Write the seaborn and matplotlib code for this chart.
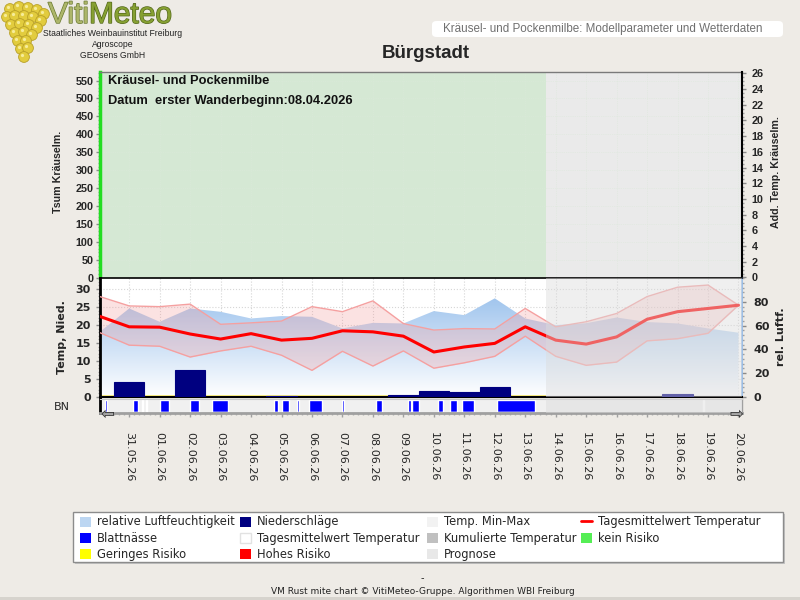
import numpy as np
import matplotlib
matplotlib.use("Agg")
import matplotlib.pyplot as plt
import seaborn as sns
import matplotlib.ticker as mticker
import matplotlib.patheffects as pe
from matplotlib.patches import Patch, Rectangle, FancyBboxPatch, Circle
from matplotlib.lines import Line2D
from matplotlib.colors import LinearSegmentedColormap

# ---------------- data ----------------
dates = ["30.05.26", "31.05.26", "01.06.26", "02.06.26", "03.06.26", "04.06.26",
         "05.06.26", "06.06.26", "07.06.26", "08.06.26", "09.06.26", "10.06.26",
         "11.06.26", "12.06.26", "13.06.26", "14.06.26", "15.06.26", "16.06.26",
         "17.06.26", "18.06.26", "19.06.26", "20.06.26"]
temp_mean = [22.5, 19.5, 19.4, 17.5, 16.1, 17.6, 15.8, 16.3, 18.4, 18.1, 16.9,
             12.5, 13.9, 14.9, 19.5, 15.8, 14.7, 16.7, 21.6, 23.7, 24.6, 25.5]
temp_max = [28.0, 25.3, 25.1, 25.8, 20.2, 20.6, 21.1, 25.1, 23.7, 26.7, 20.4,
            18.6, 19.0, 18.9, 24.6, 19.5, 20.9, 23.2, 27.9, 30.5, 31.1, 25.5]
temp_min = [18.0, 14.4, 14.1, 11.1, 12.8, 14.1, 11.6, 7.4, 12.7, 8.6, 12.8,
            8.0, 9.5, 11.3, 16.9, 11.3, 8.8, 9.7, 15.6, 16.2, 17.7, 25.5]
humidity = [54.0, 74.4, 63.2, 74.4, 71.6, 66.0, 68.0, 67.4, 57.6, 62.3, 61.8,
            72.2, 68.8, 82.9, 66.0, 60.4, 62.0, 66.8, 63.0, 61.8, 57.6, 54.0]
precip = [0.1, 4.1, 0.0, 7.4, 0.1, 0.0, 0.3, 0.1, 0.1, 0.1, 0.5,
          1.6, 1.3, 2.7, 0.1, 0.0, 0.0, 0.0, 0.0, 0.8, 0.0, 0.0]
# leaf wetness (Blattnaesse) periods, hours after 30.05.26 00:00
bn_start_h = [5, 27, 34, 37, 48, 72, 89.5, 138, 144.5, 156, 166, 192, 218.5,
              244, 247, 267, 277, 286, 313.5, 476]
bn_end_h = [6.5, 31, 35, 38, 55, 79, 102, 141, 150, 157.5, 175.5, 193, 223,
            246, 252, 271, 282.5, 296, 343.5, 477]
forecast_start_h = 352
tsum_ticks = list(range(0, 551, 50))
addtemp_ticks = list(range(0, 27, 2))
temp_ticks = list(range(0, 31, 5))
hum_ticks = list(range(0, 81, 20))

# ---------------- style ----------------
sns.set_theme(style="white")
plt.rcParams["font.family"] = ["DejaVu Sans"]
BG = "#EEEBE6"
fig = plt.figure(figsize=(8, 6), dpi=100, facecolor=BG)

def rect(top, bottom):
    return [100.5 / 800, (600 - bottom) / 600, 641.5 / 800, (bottom - top) / 600]

x = np.arange(len(dates))
XL = (0.058, 21.115)
fc_x = forecast_start_h / 24
OVER = dict(color="#DCDCDC", alpha=0.45, lw=0)
TICKC = "#8a8a8a"

# ---------------- top panel ----------------
ax_top = fig.add_axes(rect(72, 277.5))
ax_top.set_facecolor("white")
ax_top.set_xlim(*XL)
ax_top.set_ylim(0, 574)
ax_top.axvspan(XL[0], fc_x, color="#D5E8D4", lw=0, zorder=0)
ax_top.axvspan(fc_x, XL[1], color="#DCDCDC", alpha=0.6, lw=0, zorder=0)
ax_top.set_xticks(x[1:])
ax_top.tick_params(axis="x", length=0, labelbottom=False)
ax_top.grid(True, ls=":", lw=0.5, color="#DCE8DB")
ax_top.set_yticks(tsum_ticks, [str(t) for t in tsum_ticks], fontsize=7.8,
                  fontweight="bold", fontfamily="Liberation Sans")
ax_top.yaxis.set_minor_locator(mticker.MultipleLocator(10))
ax_top.tick_params(axis="y", which="major", length=3, width=1, color=TICKC, pad=2)
ax_top.tick_params(axis="y", which="minor", length=1.5, width=1, color="#a0a0a0", left=True)
for s in ["bottom", "right"]:
    ax_top.spines[s].set_visible(False)
ax_top.spines["left"].set_color("#22DD22")
ax_top.spines["left"].set_linewidth(2.5)
ax_top.spines["top"].set_color("#7a7a7a")
ax_top.spines["top"].set_linewidth(1.0)

ax_top_r = ax_top.twinx()
ax_top_r.set_ylim(0, 26.17)
ax_top_r.set_yticks(addtemp_ticks, [str(t) for t in addtemp_ticks], fontsize=7.8,
                    fontweight="bold", fontfamily="Liberation Sans")
ax_top_r.yaxis.set_minor_locator(mticker.MultipleLocator(0.5))
ax_top_r.tick_params(axis="y", which="major", length=3, width=1, color=TICKC, pad=4)
ax_top_r.tick_params(axis="y", which="minor", length=1.5, width=1, color="#a0a0a0", right=True)
for s in ["left", "top", "bottom"]:
    ax_top_r.spines[s].set_visible(False)
ax_top_r.spines["right"].set_color("black")
ax_top_r.spines["right"].set_linewidth(1.5)

ax_top.text(0.012, 0.955, "Kräusel- und Pockenmilbe", transform=ax_top.transAxes,
            ha="left", va="center", fontsize=9.3, fontweight="bold",
            fontfamily="Liberation Sans", color="#111111")
ax_top.text(0.012, 0.858, "Datum  erster Wanderbeginn:08.04.2026", transform=ax_top.transAxes,
            ha="left", va="center", fontsize=9.3, fontweight="bold",
            fontfamily="Liberation Sans", color="#111111")

# ---------------- middle panel ----------------
ax_grid = fig.add_axes(rect(278, 397))
ax_grid.set_facecolor("white")
ax_grid.set_xlim(*XL)
ax_grid.set_ylim(0, 33.06)
ax_grid.set_xticks(x[1:])
ax_grid.set_yticks(temp_ticks)
ax_grid.grid(True, ls=":", lw=0.8, color="#D6D6D6")
ax_grid.tick_params(length=0, labelleft=False, labelbottom=False)
for s in ax_grid.spines.values():
    s.set_visible(False)
ax_grid.set_zorder(0)

ax_t = fig.add_axes(rect(278, 397))
ax_h = ax_t.twinx()
ax_t.set_zorder(2)
ax_h.set_zorder(1)
ax_t.patch.set_visible(False)
ax_h.patch.set_visible(False)

# humidity gradient area
poly = ax_h.fill_between(x, 0, humidity, facecolor="none", edgecolor="none")
cmap_h = LinearSegmentedColormap.from_list("hum", ["#FFFFFF", "#8DB9EA"])
grad = np.linspace(0, 1, 256).reshape(-1, 1)
im = ax_h.imshow(grad, extent=[x[0], XL[1], 0, 100], origin="lower",
                 aspect="auto", cmap=cmap_h, zorder=1)
im.set_clip_path(poly.get_paths()[0], ax_h.transData)
ax_h.set_xlim(*XL)
ax_h.set_ylim(0, 100)
ax_h.set_yticks(hum_ticks, [str(t) for t in hum_ticks], fontsize=8, fontweight="bold")
ax_h.yaxis.set_minor_locator(mticker.MultipleLocator(4))
ax_h.tick_params(axis="y", which="major", length=3, width=1, color=TICKC, pad=5.5)
ax_h.tick_params(axis="y", which="minor", length=1.5, width=1, color="#a0a0a0", right=True)
for s in ["left", "top", "bottom"]:
    ax_h.spines[s].set_visible(False)
ax_h.spines["right"].set_color("#8FB8E8")
ax_h.spines["right"].set_linewidth(1.2)

# temperature band + lines
ax_t.fill_between(x, temp_min, temp_max, color="#F4A0A0", alpha=0.3, lw=0, zorder=2)
sns.lineplot(x=x, y=temp_max, ax=ax_t, color="#F5A0A0", linewidth=1.0, zorder=3, legend=False)
sns.lineplot(x=x, y=temp_min, ax=ax_t, color="#F5A0A0", linewidth=1.0, zorder=3, legend=False)
# yellow risk line at base of observed period
ax_t.hlines(0.15, XL[0], fc_x, color="#FFF176", lw=1.3, zorder=2.5)
# precipitation bars
bar_lw = [0.8 if p > 0 else 0 for p in precip]
ax_t.bar(x, precip, width=1.0, color="#000080", edgecolor="#000080",
         linewidth=bar_lw, zorder=4)
sns.lineplot(x=x, y=temp_mean, ax=ax_t, color="#FF0000", linewidth=2.2, zorder=5, legend=False)
ax_t.axvspan(fc_x, XL[1], zorder=10, **OVER)

ax_t.set_xlim(*XL)
ax_t.set_ylim(0, 33.06)
ax_t.set_xticks(x[1:])
ax_t.tick_params(axis="x", length=0, labelbottom=False)
ax_t.set_yticks(temp_ticks, [str(t) for t in temp_ticks], fontsize=8, fontweight="bold")
ax_t.yaxis.set_minor_locator(mticker.MultipleLocator(1))
ax_t.tick_params(axis="y", which="major", length=3, width=1, color=TICKC, pad=4)
ax_t.tick_params(axis="y", which="minor", length=1.5, width=1, color="#a0a0a0", left=True)
ax_t.set_xlabel("")
ax_t.set_ylabel("")
ax_t.spines["right"].set_visible(False)
ax_t.spines["left"].set_color("black")
ax_t.spines["left"].set_linewidth(2)
ax_t.spines["top"].set_color("black")
ax_t.spines["top"].set_linewidth(1.2)
ax_t.spines["bottom"].set_color("black")
ax_t.spines["bottom"].set_linewidth(1.5)

# ---------------- leaf wetness strip ----------------
ax_bn = fig.add_axes(rect(399, 413))
ax_bn.set_facecolor("#F0F0F0")
ax_bn.set_xlim(*XL)
ax_bn.set_ylim(0, 1)
bn_s = np.array(bn_start_h) / 24
bn_w = (np.array(bn_end_h) - np.array(bn_start_h)) / 24
ax_bn.broken_barh(list(zip(bn_s, bn_w)), (0.1, 0.82), facecolors="#0000FF", zorder=2)
ax_bn.broken_barh(list(zip(bn_s, bn_w)), (0.0, 0.1), facecolors="#F0E000", zorder=2)
ax_bn.axvspan(fc_x, XL[1], zorder=10, **OVER)
ax_bn.set_yticks([])
ax_bn.set_xticks(x[1:], dates[1:], rotation=-90, fontsize=8)
ax_bn.xaxis.set_minor_locator(mticker.MultipleLocator(1 / 6))
ax_bn.tick_params(axis="x", which="major", length=3, width=1, color="#A0A0A0", pad=11, bottom=True)
ax_bn.tick_params(axis="x", which="minor", length=1.5, width=1, color="#B0B0B0", bottom=True)
ax_bn.spines["left"].set_color("black")
ax_bn.spines["left"].set_linewidth(2)
ax_bn.spines["bottom"].set_color("#A0A0A0")
ax_bn.spines["bottom"].set_linewidth(2)
ax_bn.spines["top"].set_color("#C8C8C8")
ax_bn.spines["top"].set_linewidth(0.8)
ax_bn.spines["right"].set_color("#A0A0A0")
ax_bn.spines["right"].set_linewidth(1)

fig.text(101 / 800, (600 - 414) / 600, "\u21e6", ha="left", va="center", fontsize=12, color="#333333")
fig.text(743 / 800, (600 - 414) / 600, "\u21e8", ha="right", va="center", fontsize=12, color="#333333")

# ---------------- axis labels ----------------
fig.text(58 / 800, (600 - 172) / 600, "Tsum Kräuselm.", rotation=90, ha="center", va="center",
         fontsize=7.7, fontweight="bold", fontfamily="Liberation Sans")
fig.text(776 / 800, (600 - 172) / 600, "Add. Temp. Kräuselm.", rotation=90, ha="center", va="center",
         fontsize=7.7, fontweight="bold", fontfamily="Liberation Sans")
fig.text(62 / 800, (600 - 337) / 600, "Temp, Nied.", rotation=90, ha="center", va="center",
         fontsize=8, fontweight="bold")
fig.text(781 / 800, (600 - 337) / 600, "rel. Luftf.", rotation=90, ha="center", va="center",
         fontsize=8, fontweight="bold")
fig.text(62 / 800, (600 - 407) / 600, "BN", ha="center", va="center", fontsize=8)

# ---------------- header ----------------
fig.text(426 / 800, (600 - 53) / 600, "Bürgstadt", ha="center", va="center",
         fontsize=13.5, fontweight="bold", fontfamily="Liberation Sans")
fig.patches.append(FancyBboxPatch((432 / 800, (600 - 37) / 600), 351 / 800, 16 / 600,
                                  boxstyle="round,pad=0,rounding_size=0.006",
                                  transform=fig.transFigure, fc="white", ec="none"))
fig.text(443 / 800, (600 - 29) / 600, "Kräusel- und Pockenmilbe: Modellparameter und Wetterdaten",
         ha="left", va="center", fontsize=8.4, color="#707070", fontfamily="Liberation Sans")

# logo
ax_logo = fig.add_axes([0, (600 - 68) / 600, 50 / 800, 68 / 600])
ax_logo.set_xlim(0, 50)
ax_logo.set_ylim(68, 0)
ax_logo.axis("off")
grapes = [(10, 9), (19, 7), (28, 8), (37, 10), (44, 14), (7, 17), (15, 16), (24, 16),
          (33, 17), (41, 21), (11, 25), (20, 24), (29, 25), (37, 28), (15, 33), (24, 32),
          (32, 35), (18, 41), (26, 41), (21, 49), (28, 48), (24, 57)]
for gx, gy in grapes:
    ax_logo.add_patch(Circle((gx, gy), 5.4, fc="#E2CC3E", ec="#B8A028", lw=0.6))
    ax_logo.add_patch(Circle((gx - 1.5, gy - 1.5), 1.6, fc="#F6EC9A", ec="none"))

t1 = fig.text(48 / 800, (600 - 23) / 600, "Viti", ha="left", va="baseline", fontsize=21.5,
              color="#ADB66A", fontfamily="Liberation Sans",
              path_effects=[pe.withStroke(linewidth=1.0, foreground="#6A7A30")])
fig.add_artist(matplotlib.text.Annotation(
    "Meteo", xy=(1, 0), xycoords=t1, ha="left", va="bottom", fontsize=21.5,
    color="#86A032", fontfamily="Liberation Sans", annotation_clip=False,
    path_effects=[pe.withStroke(linewidth=1.0, foreground="#55691C")]))
for i, line in enumerate(["Staatliches Weinbauinstitut Freiburg", "Agroscope", "GEOsens GmbH"]):
    fig.text(113 / 800, (600 - 34 - 10.5 * i) / 600, line, ha="center", va="center",
             fontsize=6.2, fontfamily="Liberation Sans", color="#222222")

# ---------------- legend ----------------
fig.patches.append(Rectangle((75 / 800, (600 - 564) / 600), 710 / 800, 50 / 600,
                             transform=fig.transFigure, fc="#C4C4C4", ec="none"))
fig.patches.append(Rectangle((73 / 800, (600 - 562) / 600), 710 / 800, 50 / 600,
                             transform=fig.transFigure, fc="white", ec="#8C8C8C", lw=1))
cols = [
    (80, [(Patch(fc="#BCD6F2", ec="none"), "relative Luftfeuchtigkeit"),
          (Patch(fc="#0000FF", ec="none"), "Blattnässe"),
          (Patch(fc="#FFFF00", ec="none"), "Geringes Risiko")]),
    (240, [(Patch(fc="#000080", ec="none"), "Niederschläge"),
           (Patch(fc="white", ec="#E2E2E2"), "Tagesmittelwert Temperatur"),
           (Patch(fc="#FF0000", ec="none"), "Hohes Risiko")]),
    (427, [(Patch(fc="#F2F2F2", ec="none"), "Temp. Min-Max"),
           (Patch(fc="#C0C0C0", ec="none"), "Kumulierte Temperatur"),
           (Patch(fc="#E8E8E8", ec="none"), "Prognose")]),
    (581, [(Line2D([], [], color="#FF0000", lw=2), "Tagesmittelwert Temperatur"),
           (Patch(fc="#55EE55", ec="none"), "kein Risiko")]),
]
for cx, items in cols:
    fig.legend([h for h, _ in items], [l for _, l in items], loc="upper left",
               bbox_to_anchor=(cx / 800, (600 - 515.5) / 600), frameon=False,
               borderpad=0, borderaxespad=0, handlelength=0.95, handleheight=0.95,
               handletextpad=0.55, labelspacing=0.3, fontsize=8.3)

# ---------------- footer ----------------
fig.text(422 / 800, (600 - 578) / 600, "-", ha="center", va="center", fontsize=7)
fig.text(423 / 800, (600 - 591) / 600, "VM Rust mite chart © VitiMeteo-Gruppe. Algorithmen WBI Freiburg",
         ha="center", va="center", fontsize=6.5, color="#222222")
fig.patches.append(Rectangle((0, 0), 1, 3 / 600, transform=fig.transFigure, fc="#D6D3CD", ec="none"))

fig.savefig("out.png", dpi=100, facecolor=BG)
